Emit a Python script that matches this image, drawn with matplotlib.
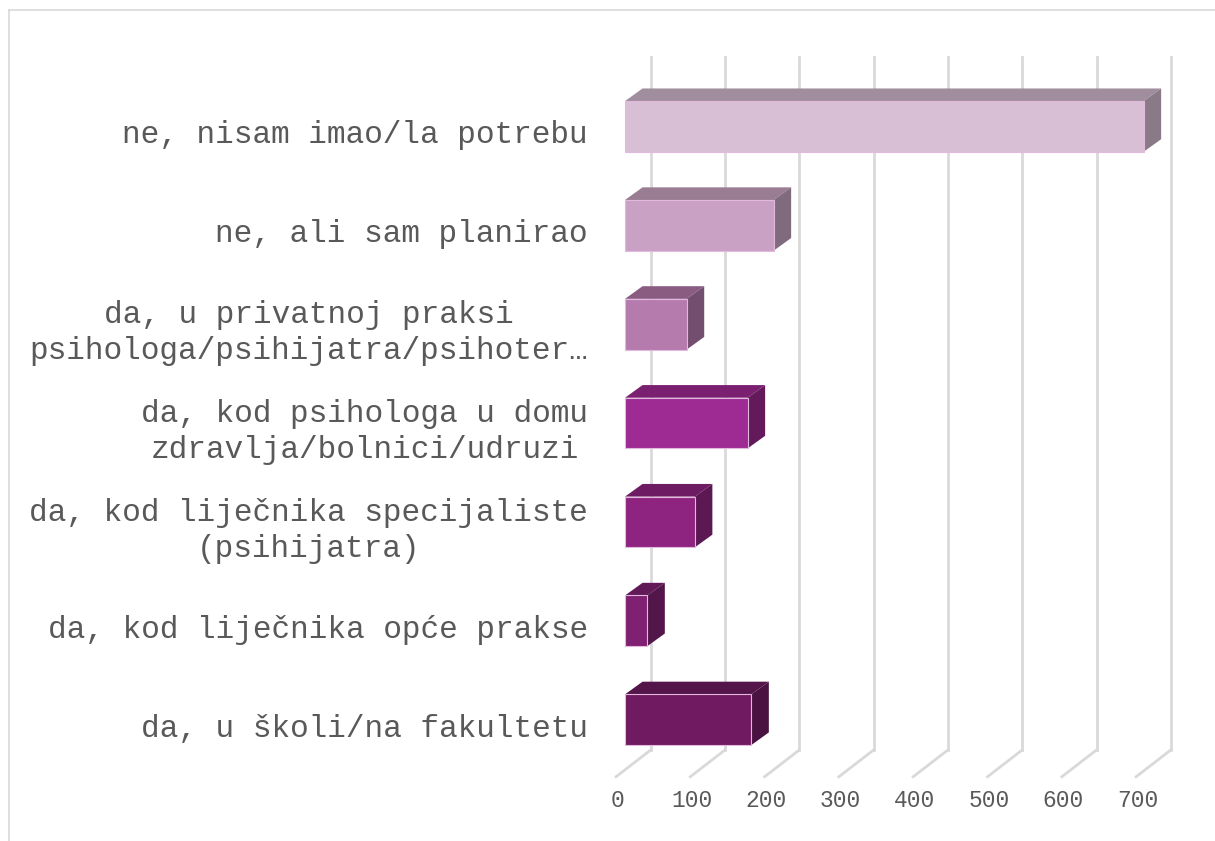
import matplotlib
matplotlib.use("Agg")
import matplotlib.pyplot as plt
from matplotlib.patches import Polygon
from matplotlib.lines import Line2D

# ---- data (top to bottom as shown) ----
CATEGORIES = [
    "ne, nisam imao/la potrebu",
    "ne, ali sam planirao",
    "da, u privatnoj praksi\npsihologa/psihijatra/psihoter…",
    "da, kod psihologa u domu\nzdravlja/bolnici/udruzi",
    "da, kod liječnika specijaliste\n(psihijatra)",
    "da, kod liječnika opće prakse",
    "da, u školi/na fakultetu",
]
VALUES = [698, 200, 83, 165, 94, 30, 170]
TICKS = [0, 100, 200, 300, 400, 500, 600, 700]

FRONT = ["#d9bfd5", "#c8a1c4", "#b67bad", "#9e2a93", "#8e247f", "#7f2072", "#6f1a61"]
TOP = ["#a08e9e", "#9a7c93", "#8a5c82", "#7b1f71", "#6d1c63", "#611957", "#54154a"]
SIDE = ["#8a7a88", "#806a7e", "#744e6e", "#64195b", "#5c1852", "#52164a", "#4a1240"]

# ---- 3D look (in data units) ----
BAR_H = 0.513
BAR_DX, BAR_DY = 23.6, 0.128      # bar depth offset
WALL_DX = 34.6                    # back wall offset from bar front
FLOOR_DX, FLOOR_Y = -12.1, -0.577  # front edge of floor
WALL_BOT, WALL_TOP = -0.306, 6.70
GRID = "#d9d9d9"
TXT = "#595959"
FONT = "Liberation Mono"

W, H = 1215, 841
fig = plt.figure(figsize=(W / 100, H / 100), dpi=100)
ax = fig.add_axes([0, 0, 1, 1])
px = 0.743   # pixels per value unit
row = 98.87  # pixels per category
ax.set_xlim(-625 / px, (W - 625) / px)
ax.set_ylim((719.7 - H) / row, 719.7 / row)
ax.axis("off")

# outer frame
fig.add_artist(Line2D([9 / W, 9 / W], [0, 1 - 10 / H], color=GRID, lw=1.2))
fig.add_artist(Line2D([9 / W, 1], [1 - 10 / H, 1 - 10 / H], color=GRID, lw=1.2))

# back wall grid + floor diagonals
for t in TICKS:
    ax.plot([t + WALL_DX, t + WALL_DX], [WALL_BOT, WALL_TOP], color=GRID, lw=2, zorder=1)
    ax.plot([t + FLOOR_DX, t + WALL_DX], [FLOOR_Y, WALL_BOT], color=GRID, lw=2, zorder=1)
    ax.text(t + FLOOR_DX + 2, FLOOR_Y - 0.24, str(t), ha="center", va="center",
            fontsize=16.5, color=TXT, family=FONT)

n = len(CATEGORIES)
for i, (lab, v) in enumerate(zip(CATEGORIES, VALUES)):
    c = n - 1 - i
    top = c + BAR_H / 2
    bot = c - BAR_H / 2
    ax.add_patch(Polygon([(0, top), (v, top), (v + BAR_DX, top + BAR_DY), (BAR_DX, top + BAR_DY)],
                         closed=True, facecolor=TOP[i], edgecolor="none", zorder=3))
    ax.add_patch(Polygon([(v, bot), (v, top), (v + BAR_DX, top + BAR_DY), (v + BAR_DX, bot + BAR_DY)],
                         closed=True, facecolor=SIDE[i], edgecolor="none", zorder=3))
    ax.barh(c, v, height=BAR_H, left=0, color=FRONT[i], edgecolor="#e2b8dc",
            linewidth=0.8, zorder=4)
    ax.text(-49.8, c - 0.09, lab, ha="right", va="center", multialignment="center",
            fontsize=22.4, color=TXT, family=FONT, linespacing=1.25)

fig.savefig("out.png", dpi=100)
